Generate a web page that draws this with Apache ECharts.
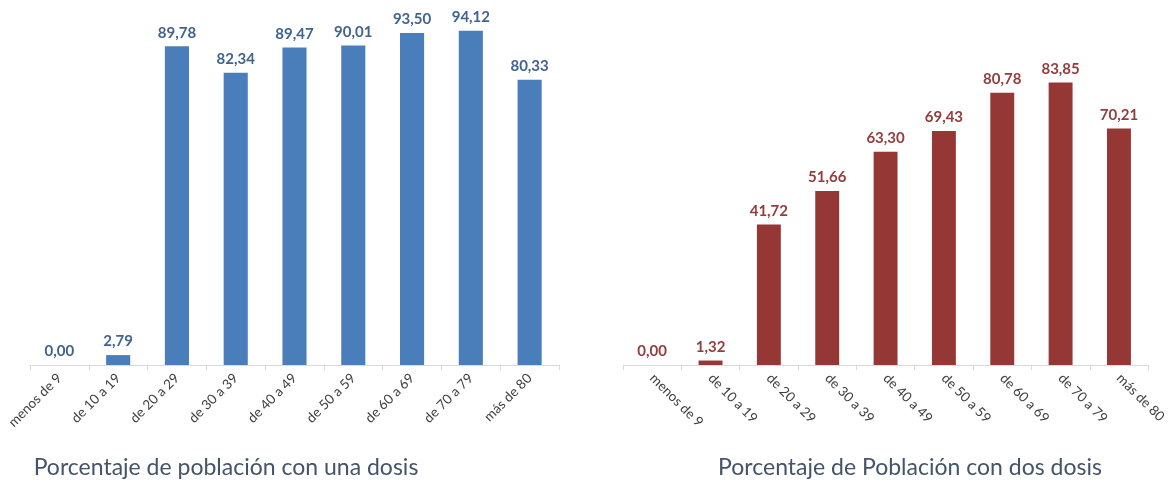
<!DOCTYPE html>
<html>
<head>
<meta charset="utf-8">
<script src="https://cdn.jsdelivr.net/npm/echarts@6/dist/echarts.min.js"></script>
<style>
html,body{margin:0;padding:0;background:#fff;}
#c{width:1169px;height:482px;}
</style>
</head>
<body>
<div id="c"></div>
<script>
const categories = ['menos de 9','de 10 a 19','de 20 a 29','de 30 a 39','de 40 a 49','de 50 a 59','de 60 a 69','de 70 a 79','más de 80'];
const unaDosis = [0.00, 2.79, 89.78, 82.34, 89.47, 90.01, 93.50, 94.12, 80.33];
const dosDosis = [0.00, 1.32, 41.72, 51.66, 63.30, 69.43, 80.78, 83.85, 70.21];
const titles = ['Porcentaje de población con una dosis', 'Porcentaje de Población con dos dosis'];

const fmt = p => p.value.toFixed(2).replace('.', ',');
const font = "Lato, 'Open Sans', 'Liberation Sans', sans-serif";

function xAxis(idx, rot) {
  return {
    type: 'category', gridIndex: idx, data: categories,
    boundaryGap: true,
    axisLine: { lineStyle: { color: '#d9d9d9', width: 1 } },
    axisTick: { show: true, length: 5, lineStyle: { color: '#d9d9d9' } },
    axisLabel: { rotate: rot, interval: 0, color: '#404040', fontSize: 13.5, fontFamily: font, margin: 11 }
  };
}
function yAxis(idx) {
  return { type: 'value', gridIndex: idx, min: 0, max: 100, show: false, splitLine: { show: false } };
}
function bars(idx, data, color, labelColor) {
  return {
    type: 'bar', xAxisIndex: idx, yAxisIndex: idx, data: data,
    barWidth: '41%',
    itemStyle: { color: color },
    label: { show: true, position: 'top', distance: 6, formatter: fmt, color: labelColor, fontSize: 15, fontWeight: 'bold', fontFamily: font }
  };
}

const chart = echarts.init(document.getElementById('c'));
chart.setOption({
  animation: false,
  backgroundColor: '#ffffff',
  title: [
    { text: titles[0], left: 226, top: 456, textAlign: 'center', padding: 0,
      textStyle: { color: '#44546a', fontSize: 23, fontWeight: 'normal', fontFamily: font } },
    { text: titles[1], left: 910, top: 456, textAlign: 'center', padding: 0,
      textStyle: { color: '#44546a', fontSize: 23, fontWeight: 'normal', fontFamily: font } }
  ],
  grid: [
    { left: 30, top: 10, width: 529, height: 355 },
    { left: 623, top: 28, width: 527, height: 337 }
  ],
  xAxis: [xAxis(0, 45), xAxis(1, -45)],
  yAxis: [yAxis(0), yAxis(1)],
  series: [
    bars(0, unaDosis, '#4a7ebb', '#41638f'),
    bars(1, dosDosis, '#953735', '#933d3d')
  ]
});
</script>
</body>
</html>
